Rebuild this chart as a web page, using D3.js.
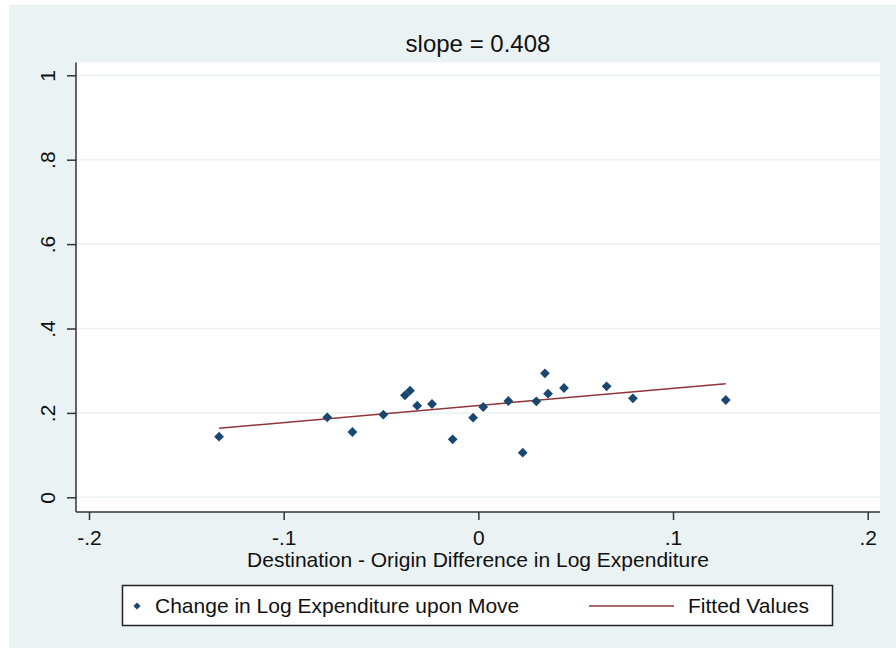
<!DOCTYPE html>
<html>
<head>
<meta charset="utf-8">
<script src="https://cdn.jsdelivr.net/npm/d3@7"></script>
<style>
  html, body { margin: 0; padding: 0; background: #fff; }
  svg { display: block; font-family: "Liberation Sans", Arial, sans-serif; }
</style>
</head>
<body>
<div id="chart"></div>
<script>
// values
const moveX = [-0.1332, -0.0776, -0.0647, -0.0488, -0.0377, -0.0351, -0.0314, -0.0238, -0.0132, -0.0027,
               0.0025, 0.0154, 0.0228, 0.0298, 0.0342, 0.0358, 0.0440, 0.0659, 0.0794, 0.1271];
const moveY = [0.1436, 0.1896, 0.1547, 0.1957, 0.2417, 0.2526, 0.2171, 0.2211, 0.1374, 0.1886,
               0.2140, 0.2282, 0.1057, 0.2275, 0.2938, 0.2455, 0.2590, 0.2630, 0.2346, 0.2306];
const fitX = [-0.1332, 0.1271];
const fitY = [0.1635, 0.2692];
const xTicks = [-0.2, -0.1, 0, 0.1, 0.2];
const yTicks = [0, 0.2, 0.4, 0.6, 0.8, 1];
const title = "slope = 0.408";
const xTitle = "Destination - Origin Difference in Log Expenditure";
const legendLabels = ["Change in Log Expenditure upon Move", "Fitted Values"];

const width = 896;
const height = 652;
const plotLeft = 76, plotRight = 880, plotTop = 62.5, plotBottom = 512;

const navy = "#1a476f";
const maroon = "#90353b";
const bg = "#eaf2f3";
const ink = "#111";

const x = d3.scaleLinear([-0.2, 0.2], [89, 867.7]);
const y = d3.scaleLinear([0, 1], [497.3, 75.3]);

// Stata style: "-.2", ".4", "0", "1"
const fmt = d => String(d).replace("0.", ".");

const svg = d3.select("#chart").append("svg")
    .attr("width", width)
    .attr("height", height)
    .attr("viewBox", [0, 0, width, height]);

// outer background and plot region
svg.append("rect")
    .attr("x", 9).attr("y", 5)
    .attr("width", width - 9).attr("height", 643)
    .attr("fill", bg);

svg.append("rect")
    .attr("x", plotLeft).attr("y", plotTop)
    .attr("width", plotRight - plotLeft).attr("height", plotBottom - plotTop)
    .attr("fill", "#fff");

// gridlines
svg.append("g")
    .selectAll("line")
    .data(yTicks)
    .join("line")
    .attr("x1", plotLeft).attr("x2", plotRight)
    .attr("y1", d => y(d)).attr("y2", d => y(d))
    .attr("stroke", bg)
    .attr("stroke-width", 1.5);

// y axis
const yAxis = svg.append("g")
    .attr("transform", `translate(${plotLeft},0)`)
    .call(d3.axisLeft(y).tickValues(yTicks).tickFormat(fmt).tickSize(9).tickSizeOuter(0));
yAxis.select(".domain").remove();
yAxis.selectAll(".tick line").attr("stroke", "#333").attr("stroke-width", 1.5);
yAxis.selectAll(".tick text")
    .attr("transform", "rotate(-90)")
    .attr("x", 0).attr("y", -21).attr("dy", null)
    .attr("text-anchor", "middle")
    .attr("fill", ink)
    .style("font-size", "21px");

// x axis
const xAxis = svg.append("g")
    .attr("transform", `translate(0,${plotBottom})`)
    .call(d3.axisBottom(x).tickValues(xTicks).tickFormat(fmt).tickSize(8).tickSizeOuter(0));
xAxis.select(".domain").remove();
xAxis.selectAll(".tick line").attr("stroke", "#333").attr("stroke-width", 1.5);
xAxis.selectAll(".tick text")
    .attr("y", 33).attr("dy", null)
    .attr("fill", ink)
    .style("font-size", "21px");

svg.append("line")
    .attr("x1", plotLeft).attr("x2", plotLeft)
    .attr("y1", plotTop).attr("y2", plotBottom)
    .attr("stroke", "#333").attr("stroke-width", 1.5);
svg.append("line")
    .attr("x1", plotLeft).attr("x2", plotRight)
    .attr("y1", plotBottom).attr("y2", plotBottom)
    .attr("stroke", "#333").attr("stroke-width", 1.5);

// fitted line
const line = d3.line()
    .x((d, i) => x(fitX[i]))
    .y((d, i) => y(fitY[i]));
svg.append("path")
    .attr("d", line(fitX))
    .attr("fill", "none")
    .attr("stroke", maroon)
    .attr("stroke-width", 1.5);

// points
const diamond = d3.symbol().type(d3.symbolSquare).size(48);
svg.append("g")
    .selectAll("path")
    .data(moveX)
    .join("path")
    .attr("d", diamond)
    .attr("transform", (d, i) => `translate(${x(d)},${y(moveY[i])}) rotate(45)`)
    .attr("fill", navy);

// titles
svg.append("text")
    .attr("x", 478).attr("y", 52)
    .attr("text-anchor", "middle")
    .attr("fill", ink)
    .style("font-size", "24px")
    .text(title);

svg.append("text")
    .attr("x", 478).attr("y", 567)
    .attr("text-anchor", "middle")
    .attr("fill", ink)
    .style("font-size", "21px")
    .text(xTitle);

// legend
const legend = svg.append("g");
legend.append("rect")
    .attr("x", 122.5).attr("y", 585.5)
    .attr("width", 710).attr("height", 40)
    .attr("fill", "#fff")
    .attr("stroke", "#222")
    .attr("stroke-width", 1.5);
legend.append("path")
    .attr("d", d3.symbol().type(d3.symbolSquare).size(26))
    .attr("transform", "translate(137,606) rotate(45)")
    .attr("fill", navy);
legend.append("text")
    .attr("x", 155).attr("y", 613)
    .attr("fill", ink)
    .style("font-size", "21px")
    .text(legendLabels[0]);
legend.append("line")
    .attr("x1", 589).attr("x2", 674)
    .attr("y1", 606).attr("y2", 606)
    .attr("stroke", maroon)
    .attr("stroke-width", 1.5);
legend.append("text")
    .attr("x", 688).attr("y", 613)
    .attr("fill", ink)
    .style("font-size", "21px")
    .text(legendLabels[1]);
</script>
</body>
</html>
